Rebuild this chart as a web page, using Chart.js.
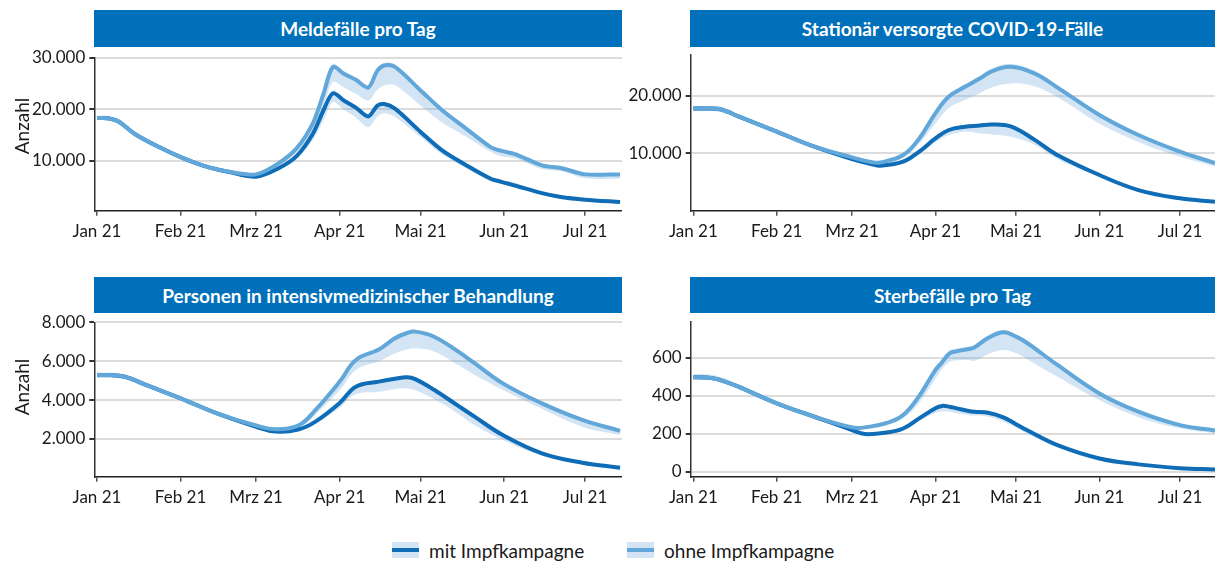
<!DOCTYPE html>
<html lang="de">
<head>
<meta charset="utf-8">
<title>Modellrechnung Impfkampagne</title>
<script src="https://cdn.jsdelivr.net/npm/chart.js@4/dist/chart.umd.min.js"></script>
<style>
  body { margin: 0; background: #fff; font-family: Lato, sans-serif; }
  #wrap { position: relative; width: 1215px; height: 563px; overflow: hidden; }
  .titel { position: absolute; background: #0070ba; color: #fff; font-weight: bold; font-size: 19px;
           display: flex; align-items: center; justify-content: center; }
  canvas { position: absolute; }
  .anzahl { position: absolute; left: 21px; font-size: 19px; color: #1a1a1a; white-space: nowrap;
            transform: translate(-50%, -50%) rotate(-90deg); }
  .leg { position: absolute; top: 540px; height: 20px; display: flex; align-items: center; font-size: 19px; color: #1a1a1a; }
  .sw { width: 27px; height: 16px; background: rgba(110,170,220,0.3); position: relative; margin-right: 10px; }
  .sw span { position: absolute; left: 0; right: 0; top: 6px; height: 4px; }
</style>
</head>
<body>
<div id="wrap">
  <div class="titel" style="left:94px;top:10px;width:528px;height:37px">Meldefälle pro Tag</div>
  <div class="titel" style="left:690px;top:10px;width:525px;height:37px">Stationär versorgte COVID-19-Fälle</div>
  <div class="titel" style="left:94px;top:277px;width:528px;height:36px">Personen in intensivmedizinischer Behandlung</div>
  <div class="titel" style="left:690px;top:277px;width:525px;height:36px">Sterbefälle pro Tag</div>

  <canvas id="c1" width="622" height="203" style="left:0;top:47px"></canvas>
  <canvas id="c2" width="605" height="203" style="left:610px;top:47px"></canvas>
  <canvas id="c3" width="622" height="203" style="left:0;top:314px"></canvas>
  <canvas id="c4" width="605" height="203" style="left:610px;top:314px"></canvas>

  <div class="anzahl" style="top:126px">Anzahl</div>
  <div class="anzahl" style="top:387px">Anzahl</div>

  <div class="leg" style="left:392px"><div class="sw"><span style="background:#0f6cb6"></span></div>mit Impfkampagne</div>
  <div class="leg" style="left:627px"><div class="sw"><span style="background:#62a7d9"></span></div>ohne Impfkampagne</div>
</div>
<script>
// Monatsanfänge (Tage seit 1. Jan 2021) und Beschriftung
const monatTage = [0, 31, 59, 90, 120, 151, 181];
const monatLabels = ['Jan 21', 'Feb 21', 'Mrz 21', 'Apr 21', 'Mai 21', 'Jun 21', 'Jul 21'];

// Meldefälle pro Tag
const meldeTage = [0, 4, 8, 14, 23, 31, 40, 49, 59, 67, 74, 80, 84, 87.5, 91.5, 96, 100.6, 104, 106.5, 110.5, 120, 128, 137, 146, 150, 155, 165, 172, 181, 194];
const meldeMit = [18300, 18250, 17600, 15200, 12650, 10700, 8950, 7800, 6900, 8450, 10900, 15200, 19800, 23100, 21700, 20300, 18600, 20700, 21000, 20100, 15600, 12000, 9100, 6500, 5900, 5200, 3700, 2950, 2430, 1980];
const meldeMitLow = [17900, 17850, 17250, 15000, 12450, 10500, 8750, 7600, 6700, 8100, 10300, 14000, 17800, 21400, 19900, 18400, 16500, 18600, 19200, 18500, 14600, 11200, 8500, 6000, 5500, 4900, 3500, 2800, 2300, 1850];
const meldeMitHigh = [18700, 18650, 17950, 15400, 12850, 10900, 9150, 8000, 7100, 8700, 11300, 15600, 20200, 23500, 22100, 20700, 19000, 21100, 21400, 20500, 16000, 12300, 9300, 6700, 6100, 5400, 3850, 3100, 2550, 2100];
const meldeOhne = [18300, 18250, 17600, 15200, 12650, 10700, 8950, 7850, 7350, 9400, 12400, 17200, 23000, 28200, 26900, 25700, 24200, 27500, 28500, 28200, 23650, 19800, 16200, 12650, 11900, 11300, 9100, 8600, 7350, 7350];
const meldeOhneLow = [17900, 17850, 17250, 15000, 12450, 10500, 8750, 7650, 7100, 8900, 11600, 15600, 20500, 25300, 24200, 23000, 21700, 23800, 24600, 24700, 20700, 17400, 14600, 11700, 10800, 10500, 8400, 8000, 6600, 6500];
const meldeOhneHigh = [18700, 18650, 17950, 15400, 12850, 10900, 9150, 8050, 7600, 9700, 12800, 17700, 23500, 28800, 27400, 26200, 24700, 28000, 29000, 28700, 24100, 20200, 16500, 12950, 12200, 11600, 9350, 8900, 7600, 7600];
const meldeTicks = [10000, 20000, 30000];

// Stationär versorgte COVID-19-Fälle
const statTage = [0, 5, 9.5, 12.5, 16.5, 31, 45, 59, 66.5, 69.5, 78, 84, 90, 95, 101, 106.5, 111, 118, 126.8, 135, 151, 165.5, 181, 194];
const statMit = [17840, 17830, 17740, 17300, 16500, 13780, 11160, 9000, 8100, 7850, 8550, 10300, 12600, 14070, 14650, 14850, 15050, 14700, 12400, 9800, 6220, 3600, 2160, 1550];
const statMitLow = [17400, 17400, 17300, 16900, 16150, 13500, 10900, 8750, 7850, 7600, 8250, 9900, 11900, 13200, 13780, 13500, 13300, 12900, 11500, 9100, 5900, 3400, 2050, 1450];
const statMitHigh = [18200, 18200, 18150, 17700, 16800, 14050, 11400, 9250, 8300, 8050, 8800, 10600, 12900, 14350, 14950, 15150, 15350, 15000, 12700, 10050, 6400, 3750, 2250, 1650];
const statOhne = [17840, 17830, 17740, 17300, 16500, 13780, 11160, 9300, 8450, 8400, 9700, 12600, 16970, 19900, 21600, 23050, 24300, 25100, 23940, 21600, 16700, 13200, 10290, 8300];
const statOhneLow = [17400, 17400, 17300, 16900, 16150, 13500, 10900, 9050, 8150, 8100, 9200, 11700, 15200, 17900, 19300, 20500, 21500, 22200, 21700, 19900, 15200, 12000, 9400, 7700];
const statOhneHigh = [18200, 18200, 18150, 17700, 16800, 14050, 11400, 9550, 8700, 8650, 10000, 12900, 17300, 20300, 22000, 23500, 24800, 25600, 24400, 22000, 17100, 13550, 10600, 8600];
const statTicks = [10000, 20000];

// Personen in intensivmedizinischer Behandlung
const intTage = [0, 5, 9.5, 13, 17, 31, 45, 59, 66.5, 75, 81, 90, 96, 104.5, 110.5, 115, 118, 125, 134, 140, 150.5, 165, 180, 194];
const intMit = [5290, 5285, 5230, 5080, 4850, 4090, 3290, 2630, 2380, 2500, 2890, 3850, 4690, 4950, 5100, 5170, 5080, 4530, 3700, 3150, 2200, 1260, 780, 520];
const intMitLow = [5150, 5150, 5100, 4960, 4740, 4000, 3200, 2550, 2300, 2420, 2780, 3600, 4300, 4430, 4560, 4600, 4500, 4050, 3300, 2720, 1950, 1150, 720, 480];
const intMitHigh = [5400, 5400, 5340, 5180, 4950, 4180, 3370, 2700, 2460, 2580, 2970, 3930, 4770, 5030, 5180, 5250, 5160, 4610, 3780, 3230, 2280, 1320, 830, 560];
const intOhne = [5290, 5285, 5230, 5080, 4850, 4090, 3290, 2690, 2500, 2720, 3490, 4950, 6060, 6600, 7180, 7450, 7520, 7260, 6490, 5900, 4860, 3830, 2980, 2420];
const intOhneLow = [5150, 5150, 5100, 4960, 4740, 4000, 3200, 2600, 2420, 2600, 3250, 4500, 5550, 6000, 6400, 6600, 6660, 6500, 5800, 5300, 4520, 3550, 2630, 2200];
const intOhneHigh = [5400, 5400, 5340, 5180, 4950, 4180, 3370, 2770, 2580, 2800, 3580, 5050, 6150, 6700, 7280, 7550, 7620, 7360, 6590, 6000, 4960, 3930, 3060, 2500];
const intTicks = [2000, 4000, 6000, 8000];

// Sterbefälle pro Tag
const sterbTage = [0, 4, 8, 12, 16.5, 31, 45, 59, 63.8, 72.3, 78, 83.8, 90, 92.4, 95.3, 98, 102.4, 104.5, 109.6, 115.3, 120, 124, 135.4, 151, 165.5, 181, 194];
const sterbMit = [498, 497, 491, 474, 450, 361, 290, 220, 199, 208, 228, 280, 335, 347, 343, 334, 320, 316, 311, 287, 251, 220, 140, 70, 39, 19, 12];
const sterbMitLow = [488, 487, 481, 465, 441, 353, 282, 212, 192, 200, 218, 265, 310, 318, 316, 308, 298, 296, 290, 264, 232, 202, 130, 64, 35, 16, 10];
const sterbMitHigh = [508, 507, 501, 483, 458, 369, 298, 227, 206, 215, 236, 290, 342, 353, 350, 341, 327, 322, 317, 293, 257, 226, 146, 75, 42, 22, 14];
const sterbOhne = [498, 497, 491, 474, 450, 361, 290, 234, 234, 259, 299, 396, 536, 575, 624, 635, 647, 655, 705, 735, 712, 680, 563, 413, 317, 246, 218];
const sterbOhneLow = [488, 487, 481, 465, 441, 353, 282, 226, 226, 248, 282, 360, 490, 540, 580, 588, 589, 585, 620, 642, 625, 595, 501, 378, 288, 229, 202];
const sterbOhneHigh = [515, 514, 508, 490, 460, 370, 298, 242, 242, 268, 310, 410, 555, 595, 640, 650, 660, 668, 718, 748, 725, 690, 573, 421, 324, 252, 224];
const sterbTicks = [0, 200, 400, 600];

const dunkel = '#0f6cb6';
const hell = '#62a7d9';
const band = 'rgba(110,170,220,0.3)';

function punkte(tage, werte) {
  return tage.map((t, i) => ({ x: t, y: werte[i] }));
}

function tausender(v) {
  return String(v).replace(/\B(?=(\d{3})+(?!\d))/g, '.');
}

function bandSet(tage, werte, fill, tension) {
  return {
    data: punkte(tage, werte), fill: fill, backgroundColor: band,
    borderWidth: 0, pointRadius: 0, tension: tension, order: 3
  };
}

function linie(tage, werte, farbe, order, tension) {
  return {
    data: punkte(tage, werte), borderColor: farbe, borderWidth: 4, fill: false,
    pointRadius: 0, tension: tension, order: order
  };
}

function panel(id, tage, mit, mitLow, mitHigh, ohne, ohneLow, ohneHigh, yTicks, yMin, yMax, p) {
  new Chart(document.getElementById(id), {
    type: 'line',
    data: {
      datasets: [
        bandSet(tage, ohneHigh, '+1', p.tension),
        bandSet(tage, ohneLow, false, p.tension),
        bandSet(tage, mitHigh, '+1', p.tension),
        bandSet(tage, mitLow, false, p.tension),
        linie(tage, mit, dunkel, 2, p.tension),
        linie(tage, ohne, hell, 1, p.tension)
      ]
    },
    options: {
      responsive: false,
      animation: false,
      layout: { padding: { top: p.top, right: 0, bottom: 0, left: 0 } },
      plugins: { legend: { display: false }, tooltip: { enabled: false } },
      scales: {
        x: {
          type: 'linear', min: -1, max: p.xMax,
          afterBuildTicks: s => { s.ticks = monatTage.map(v => ({ value: v })); },
          afterFit: s => { s.height = p.xH; s.paddingLeft = 0; s.paddingRight = 0; },
          ticks: {
            autoSkip: false, maxRotation: 0, padding: 6, color: '#1a1a1a',
            font: { family: 'Lato', size: 17 },
            callback: v => monatLabels[monatTage.indexOf(v)]
          },
          grid: { drawOnChartArea: false, tickLength: 5, tickColor: '#555', lineWidth: 1.5 },
          border: { color: '#222', width: 1.5 }
        },
        y: {
          min: yMin, max: yMax,
          afterBuildTicks: s => { s.ticks = yTicks.map(v => ({ value: v })); },
          afterFit: s => { s.width = p.yW; s.paddingTop = 0; s.paddingBottom = 0; },
          ticks: {
            padding: 4, color: '#1a1a1a', font: { family: 'Lato', size: 17 },
            callback: v => tausender(v)
          },
          grid: { color: '#dcdcdc', lineWidth: 2, tickLength: 5, tickColor: '#333' },
          border: { color: '#333', width: 1.5 }
        }
      }
    }
  });
}

panel('c1', meldeTage, meldeMit, meldeMitLow, meldeMitHigh, meldeOhne, meldeOhneLow, meldeOhneHigh,
  meldeTicks, 300, 30000, { top: 10.7, xH: 39.3, yW: 94.3, xMax: 194.7, tension: 0.3 });
panel('c2', statTage, statMit, statMitLow, statMitHigh, statOhne, statOhneLow, statOhneHigh,
  statTicks, 0, 27150, { top: 8, xH: 39.3, yW: 80.7, xMax: 194, tension: 0.4 });
panel('c3', intTage, intMit, intMitLow, intMitHigh, intOhne, intOhneLow, intOhneHigh,
  intTicks, 60, 8000, { top: 8.3, xH: 40.3, yW: 94.3, xMax: 194.7, tension: 0.4 });
panel('c4', sterbTage, sterbMit, sterbMitLow, sterbMitHigh, sterbOhne, sterbOhneLow, sterbOhneHigh,
  sterbTicks, -26, 791, { top: 7.7, xH: 40.3, yW: 80.7, xMax: 194, tension: 0.4 });
</script>
</body>
</html>
